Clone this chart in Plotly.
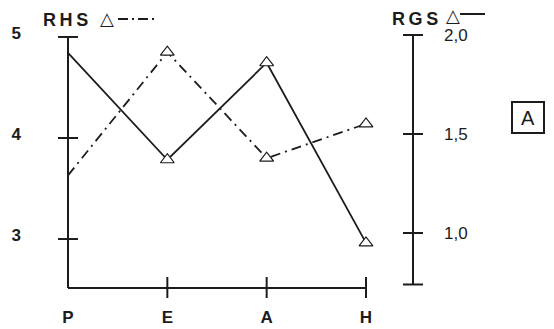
import plotly.graph_objects as go

# ---- data ----
categories = ["P", "E", "A", "H"]
x_pos = [0, 1, 2, 3]
rhs_values = [3.63, 4.85, 3.80, 4.14]   # left axis, dash-dot
rgs_values = [1.91, 1.37, 1.86, 0.95]   # right axis, solid
marker_shown = [0, 1, 1, 1]             # no marker at P
left_ticks = [3, 4, 5]
left_ticktext = ["3", "4", "5"]
right_ticks = [1.0, 1.5, 2.0]
right_ticktext = ["1,0", "1,5", "2,0"]

# ---- layout geometry ----
W, H = 554, 329
PX0, PX1, PY0, PY1 = 48, 440, 30, 305      # plot area in pixels
X_RANGE = [-0.2013, 3.745]
LEFT_RANGE = [2.347, 5.069]
RIGHT_RANGE = [0.6364, 2.0253]
X_AXIS_AT = 2.515          # left-axis value where the category axis sits
LEFT_AXIS_TOP = 5.0
RIGHT_AXIS_X = 3.473       # x position of the right-hand scale
RIGHT_AXIS_BOTTOM = 0.74

INK = "#1c1c1c"
FONT = "Liberation Sans"


def px2x(px):
    return (px - PX0) / (PX1 - PX0)


def py2y(py):
    return (PY1 - py) / (PY1 - PY0)


fig = go.Figure()
fig.add_trace(go.Scatter(
    x=x_pos, y=rhs_values, mode="lines+markers", yaxis="y",
    line=dict(color=INK, width=1.8, dash="10px,5px,2px,5px"),
    marker=dict(symbol="triangle-up", size=12, color="white", opacity=marker_shown,
                line=dict(color=INK, width=1.2)),
    showlegend=False))
fig.add_trace(go.Scatter(
    x=x_pos, y=rgs_values, mode="lines+markers", yaxis="y2",
    line=dict(color=INK, width=1.8),
    marker=dict(symbol="triangle-up", size=12, color="white", opacity=marker_shown,
                line=dict(color=INK, width=1.2)),
    showlegend=False))

shapes = []
aw = 2
# category axis line and ticks
shapes.append(dict(type="line", xref="x", yref="y", x0=x_pos[0], x1=x_pos[-1], y0=X_AXIS_AT, y1=X_AXIS_AT,
                   line=dict(color=INK, width=aw)))
for xv in x_pos[1:]:
    shapes.append(dict(type="line", xref="x", yref="y", ysizemode="pixel", yanchor=X_AXIS_AT,
                       x0=xv, x1=xv, y0=-10, y1=11, line=dict(color=INK, width=aw)))
# left axis line, ticks, top cap
shapes.append(dict(type="line", xref="x", yref="y", x0=x_pos[0], x1=x_pos[0], y0=X_AXIS_AT, y1=LEFT_AXIS_TOP,
                   line=dict(color=INK, width=aw)))
for yv in left_ticks:
    shapes.append(dict(type="line", xref="x", yref="y", xsizemode="pixel", xanchor=x_pos[0],
                       x0=-10, x1=10, y0=yv, y1=yv, line=dict(color=INK, width=aw)))
# right axis line, ticks, caps
shapes.append(dict(type="line", xref="x", yref="y2", x0=RIGHT_AXIS_X, x1=RIGHT_AXIS_X,
                   y0=RIGHT_AXIS_BOTTOM, y1=right_ticks[-1], line=dict(color=INK, width=aw)))
for yv in right_ticks + [RIGHT_AXIS_BOTTOM]:
    shapes.append(dict(type="line", xref="x", yref="y2", xsizemode="pixel", xanchor=RIGHT_AXIS_X,
                       x0=-10, x1=10, y0=yv, y1=yv, line=dict(color=INK, width=aw)))

# legend-like titles
shapes.append(dict(type="line", xref="paper", yref="paper", x0=px2x(118), x1=px2x(156), y0=py2y(19), y1=py2y(19),
                   line=dict(color=INK, width=2, dash="10px,4px,2px,4px")))
shapes.append(dict(type="line", xref="paper", yref="paper", x0=px2x(460), x1=px2x(485), y0=py2y(14), y1=py2y(14),
                   line=dict(color=INK, width=2)))
# box around "A"
shapes.append(dict(type="rect", xref="paper", yref="paper", x0=px2x(512), x1=px2x(544), y0=py2y(133), y1=py2y(102),
                   line=dict(color=INK, width=2)))

annotations = [
    dict(text="<b>R\u2009H\u2009S</b>", xref="paper", yref="paper", x=px2x(41), y=py2y(20), xanchor="left",
         yanchor="middle", showarrow=False, font=dict(family=FONT, size=18, color=INK)),
    dict(text="△", xref="paper", yref="paper", x=px2x(107), y=py2y(19), xanchor="center", yanchor="middle",
         showarrow=False, font=dict(family="DejaVu Sans", size=18, color=INK)),
    dict(text="<b>R\u2009G\u2009S</b>", xref="paper", yref="paper", x=px2x(390), y=py2y(19), xanchor="left",
         yanchor="middle", showarrow=False, font=dict(family=FONT, size=18, color=INK)),
    dict(text="△", xref="paper", yref="paper", x=px2x(453), y=py2y(16), xanchor="center", yanchor="middle",
         showarrow=False, font=dict(family="DejaVu Sans", size=18, color=INK)),
    dict(text="A", xref="paper", yref="paper", x=px2x(528), y=py2y(118), xanchor="center", yanchor="middle",
         showarrow=False, font=dict(family=FONT, size=20, color=INK)),
]

fig.update_layout(
    width=W, height=H,
    margin=dict(l=PX0, r=W - PX1, t=PY0, b=H - PY1),
    paper_bgcolor="white", plot_bgcolor="white",
    shapes=shapes, annotations=annotations,
    xaxis=dict(range=X_RANGE, showgrid=False, zeroline=False, showline=False, automargin=False,
               tickvals=x_pos, ticktext=categories, ticks="", ticklabelstandoff=0,
               tickfont=dict(family=FONT, size=17, color=INK, weight="bold")),
    yaxis=dict(range=LEFT_RANGE, showgrid=False, zeroline=False, showline=False, automargin=False,
               tickvals=left_ticks, ticktext=left_ticktext, ticks="",
               ticklabelstandoff=26, ticklabelshift=-4,
               tickfont=dict(family=FONT, size=17, color=INK, weight="bold")),
    yaxis2=dict(range=RIGHT_RANGE, overlaying="y", side="right", showgrid=False, zeroline=False,
                showline=False, automargin=False, tickvals=right_ticks, ticktext=right_ticktext, ticks="",
                ticklabelstandoff=3,
                tickfont=dict(family=FONT, size=17, color=INK)),
)

fig.write_html("out.html", config={"displayModeBar": False},
               post_script="document.body.style.margin='0px';")
